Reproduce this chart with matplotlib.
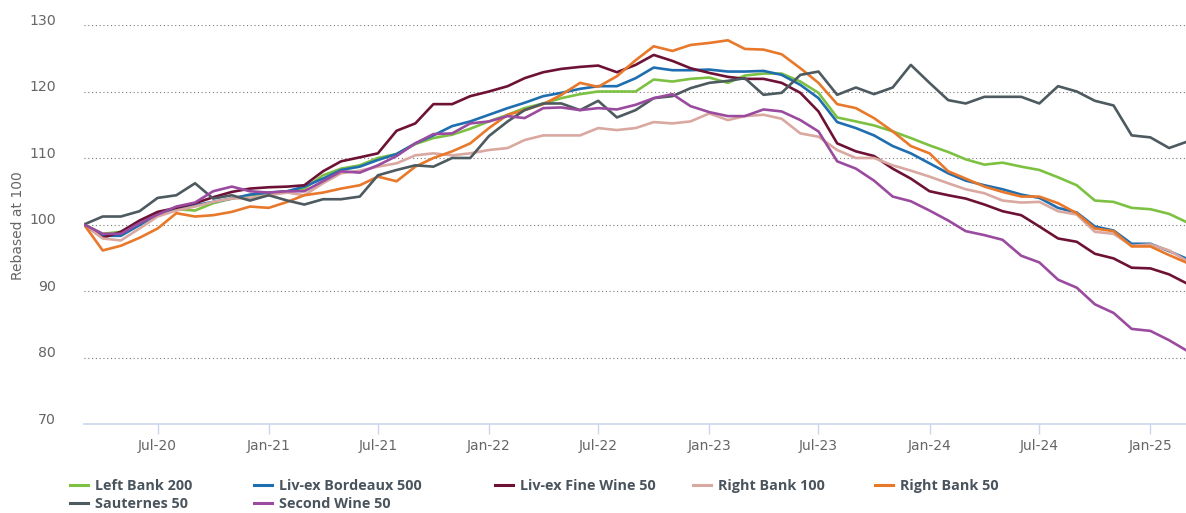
import numpy as np
import pandas as pd
import matplotlib
matplotlib.use("Agg")
import matplotlib.pyplot as plt
import matplotlib.dates as mdates
import matplotlib.transforms as mtransforms
from matplotlib.lines import Line2D

# monthly index values, Mar-20 .. Mar-25, rebased at 100
months = pd.date_range("2020-03-01", periods=61, freq="MS")

left_bank_200 = [100, 98.6, 98.9, 100.4, 101.7, 102.3, 102.1, 103.2, 103.9, 104.4,
                 104.7, 105, 105.4, 107.4, 108.4, 108.9, 110, 110.6, 112.1, 113,
                 113.5, 114.4, 115.5, 116.5, 117.5, 118.2, 119, 119.6, 120, 120,
                 120, 121.8, 121.5, 121.9, 122.1, 121.3, 122.4, 122.7, 122.7, 121.5,
                 119.8, 116.1, 115.5, 114.9, 114, 113, 111.9, 110.9, 109.8, 109,
                 109.3, 108.7, 108.2, 107.1, 105.9, 103.6, 103.4, 102.5, 102.3, 101.6,
                 100.4]
bordeaux_500 = [100, 98.3, 98.3, 99.9, 101.5, 102.4, 102.9, 103.4, 103.9, 104.5,
                104.8, 105, 105.7, 106.9, 108.2, 108.7, 109.7, 110.6, 112.2, 113.4,
                114.8, 115.5, 116.5, 117.5, 118.3, 119.3, 119.8, 120.4, 120.8, 120.8,
                122, 123.6, 123.2, 123.2, 123.3, 123, 123, 123.1, 122.5, 121,
                119, 115.4, 114.5, 113.4, 111.8, 110.7, 109.2, 107.7, 106.6, 105.9,
                105.3, 104.5, 104, 102.5, 101.8, 99.7, 99.1, 97.1, 97.1, 96,
                94.9]
fine_wine_50 = [100, 98, 98.9, 100.6, 101.9, 102.5, 103.2, 104.1, 104.9, 105.4,
                105.6, 105.7, 105.9, 108, 109.5, 110.1, 110.7, 114.1, 115.2, 118.1,
                118.1, 119.3, 120, 120.8, 122, 122.9, 123.4, 123.7, 123.9, 122.9,
                124, 125.5, 124.6, 123.5, 122.8, 122.2, 121.9, 121.9, 121.3, 119.8,
                117, 112.2, 111, 110.3, 108.4, 106.9, 105, 104.4, 103.9, 103,
                102, 101.4, 99.7, 97.9, 97.4, 95.6, 94.9, 93.5, 93.4, 92.5,
                91.2]
right_bank_100 = [100, 97.9, 97.6, 99.4, 101.2, 102.1, 102.7, 103.4, 103.9, 104,
                  104.4, 104.8, 104.4, 106.2, 107.7, 108.1, 108.7, 109.2, 110.4, 110.7,
                  110.4, 110.7, 111.2, 111.5, 112.7, 113.4, 113.4, 113.4, 114.5, 114.2,
                  114.5, 115.4, 115.2, 115.5, 116.7, 115.7, 116.3, 116.5, 115.9, 113.7,
                  113.2, 111.2, 110, 110, 108.9, 108.1, 107.2, 106.2, 105.3, 104.7,
                  103.6, 103.3, 103.4, 102, 101.5, 98.9, 98.6, 96.8, 97, 96.1,
                  94.6]
right_bank_50 = [100, 96.1, 96.8, 98, 99.4, 101.7, 101.2, 101.4, 101.9, 102.7,
                 102.5, 103.4, 104.4, 104.8, 105.4, 105.9, 107.2, 106.5, 108.7, 110,
                 111, 112.2, 114.5, 116.5, 117.2, 118.1, 119.5, 121.3, 120.7, 122.3,
                 124.7, 126.8, 126.1, 127, 127.3, 127.7, 126.4, 126.3, 125.6, 123.5,
                 121.3, 118.1, 117.5, 116, 114, 111.8, 110.7, 108, 106.9, 105.7,
                 104.9, 104.2, 104.2, 103.2, 101.7, 99.4, 99, 96.7, 96.7, 95.4,
                 94.3]
sauternes_50 = [100, 101.2, 101.2, 102, 104, 104.4, 106.2, 103.9, 104.4, 103.6,
                104.4, 103.6, 103, 103.8, 103.8, 104.2, 107.4, 108.2, 108.9, 108.7,
                110, 110, 113.3, 115.5, 117.2, 118.2, 118.2, 117.2, 118.6, 116.1,
                117.2, 119, 119.3, 120.5, 121.3, 121.6, 122, 119.5, 119.8, 122.5,
                123, 119.5, 120.6, 119.6, 120.6, 124, 121.3, 118.7, 118.2, 119.2,
                119.2, 119.2, 118.2, 120.8, 120, 118.6, 117.9, 113.4, 113.1, 111.5,
                112.4]
second_wine_50 = [100, 98.6, 98.6, 100.2, 101.5, 102.7, 103.3, 105, 105.7, 105,
                  104.8, 105, 105, 106.5, 108, 107.8, 108.9, 110.3, 112.2, 113.6,
                  113.7, 115.2, 115.5, 116.3, 116, 117.5, 117.6, 117.2, 117.5, 117.3,
                  118, 119, 119.6, 117.8, 116.9, 116.3, 116.3, 117.3, 117, 115.7,
                  114, 109.5, 108.4, 106.6, 104.2, 103.5, 102.1, 100.6, 99, 98.4,
                  97.7, 95.3, 94.3, 91.7, 90.5, 88, 86.7, 84.3, 84, 82.6,
                  81.1]

series_names = ["Left Bank 200", "Liv-ex Bordeaux 500", "Liv-ex Fine Wine 50",
                "Right Bank 100", "Right Bank 50", "Sauternes 50", "Second Wine 50"]
series_values = [left_bank_200, bordeaux_500, fine_wine_50, right_bank_100,
                 right_bank_50, sauternes_50, second_wine_50]
colors = ["#7cc142", "#1f6eb0", "#6d1235", "#d9a8a0", "#e8782a", "#4d5a5f", "#9a4b9f"]

tick_dates = pd.date_range("2020-07-01", "2025-01-01", freq="6MS")
y_ticks = [70, 80, 90, 100, 110, 120, 130]

W, H = 1186, 513
fig = plt.figure(figsize=(W / 100, H / 100), dpi=100)
ax = fig.add_axes([84 / W, (H - 424) / H, 1 - 84 / W, (424 - 25) / H])

for name, vals, c in zip(series_names, series_values, colors):
    ax.plot(months, vals, color=c, lw=1.9, label=name, solid_joinstyle="round")

ax.set_xlim(months[0], months[-1])
ax.set_ylim(70, 130)
ax.set_yticks(y_ticks)
ax.set_xticks(tick_dates)
ax.xaxis.set_major_formatter(mdates.DateFormatter("%b-%y"))

for v in y_ticks[1:]:
    ax.axhline(v, color="#7a7a7a", lw=0.8, ls=(0, (1, 2.4)), zorder=0)

for s in ["left", "top", "right"]:
    ax.spines[s].set_visible(False)
ax.spines["bottom"].set_color("#ccd6eb")
ax.spines["bottom"].set_linewidth(1.2)

ax.tick_params(axis="x", length=7, width=1, color="#ccd6eb", pad=4,
               labelsize=10, labelcolor="#666666")
ax.tick_params(axis="y", length=0, pad=20, labelsize=10.2, labelcolor="#666666")
off = mtransforms.ScaledTranslation(0, 6 / 100, fig.dpi_scale_trans)
for lab in ax.get_yticklabels():
    lab.set_transform(lab.get_transform() + off)

fig.text(18 / W, 1 - 226 / H, "Rebased at 100", rotation=90, ha="center", va="center",
         fontsize=10, color="#666666")

# legend, laid out in columns as in the original
col_x = [70, 254, 495, 693, 875]
cols = [[0, 5], [1, 6], [2], [3], [4]]
for x, idx in zip(col_x, cols):
    hs = [Line2D([], [], color=colors[i], lw=2.2) for i in idx]
    fig.legend(hs, [series_names[i] for i in idx], loc="upper left",
               bbox_to_anchor=(x / W, 1 - 479 / H), frameon=False,
               borderpad=0, borderaxespad=0, handlelength=1.25, handletextpad=0.45,
               labelspacing=0.3, labelcolor="#4a545d",
               prop={"family": "Open Sans", "weight": "bold", "size": 10.4})

fig.savefig("out.png", dpi=100)
